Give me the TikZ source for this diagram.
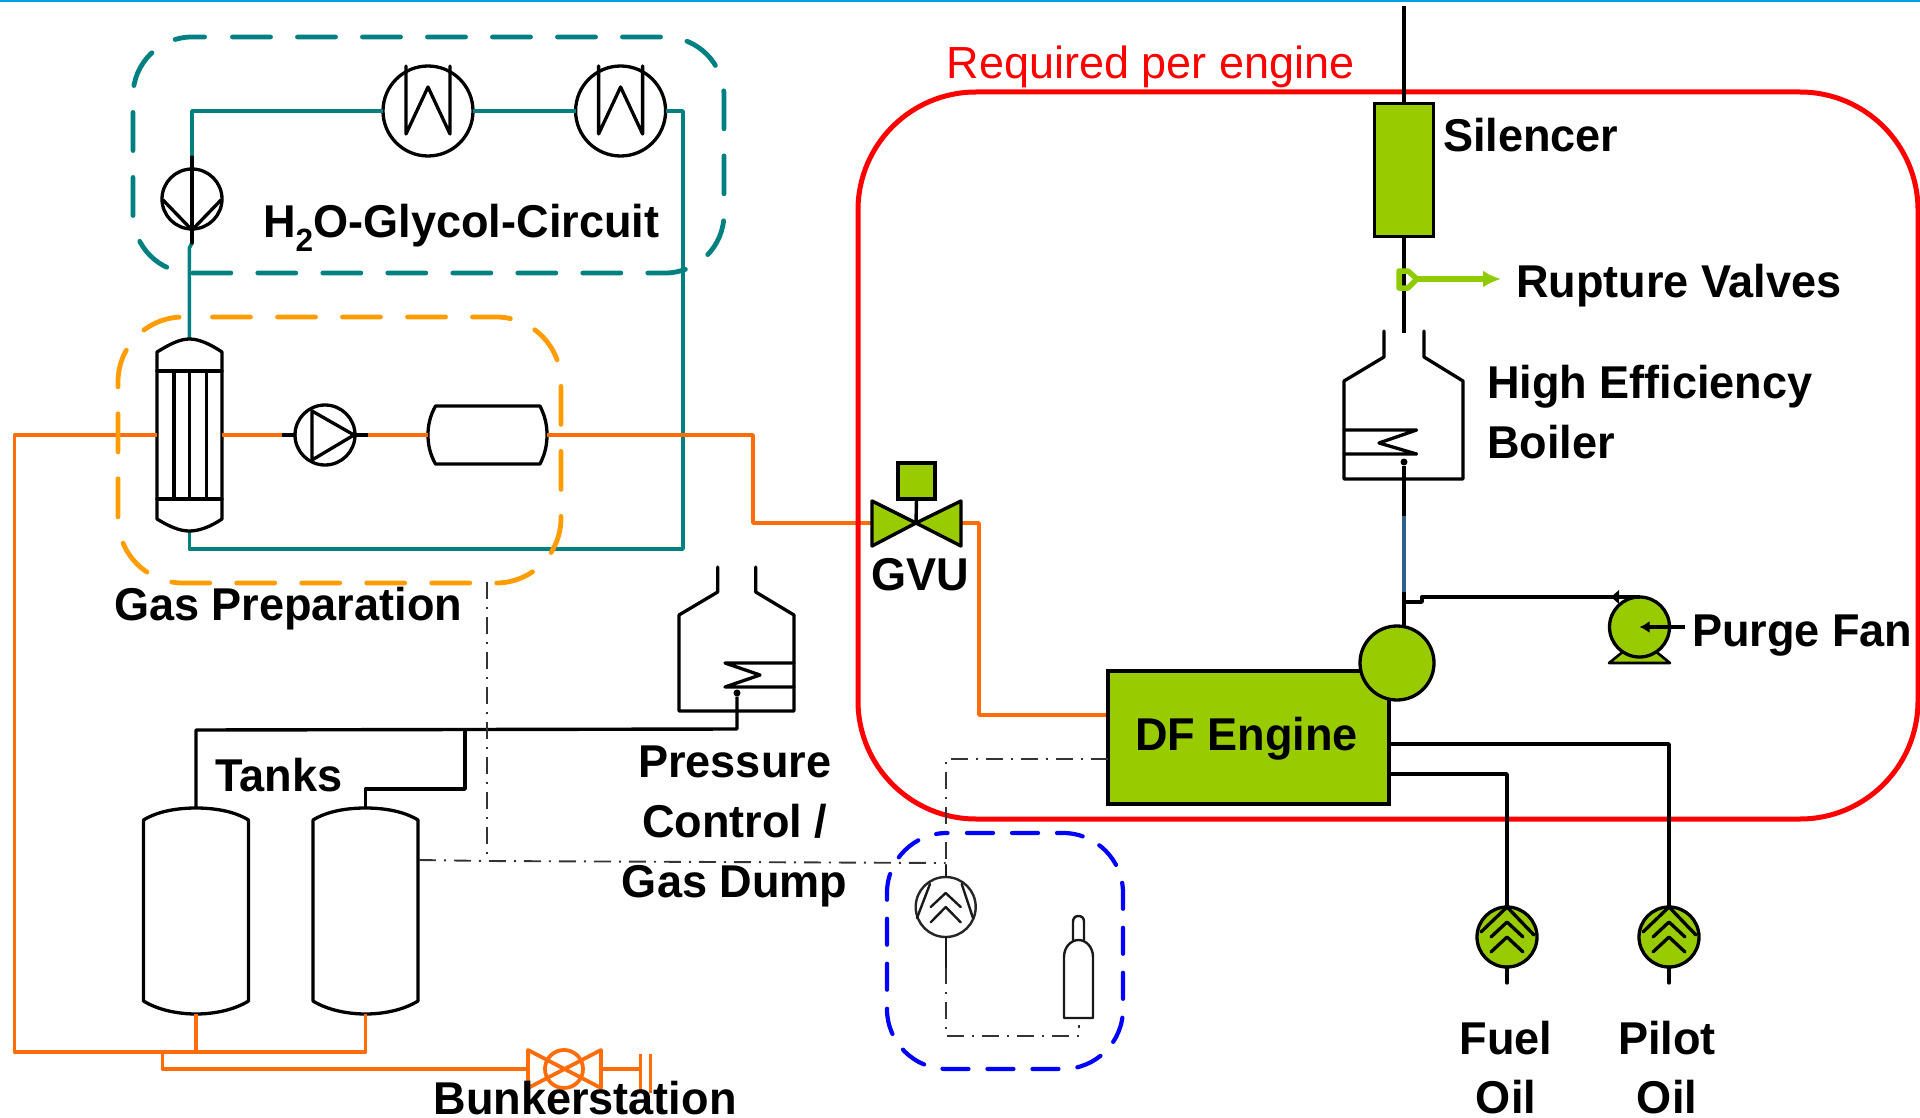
\documentclass[tikz,border=0pt]{standalone}
\usepackage{fontspec}
\setmainfont{Liberation Sans}
\usetikzlibrary{arrows.meta}
\newfontfamily\labfont[FakeStretch=0.98,BoldFont={Liberation Sans Bold}]{Liberation Sans}
\definecolor{dfgreen}{HTML}{99CC00}
\definecolor{teal2}{HTML}{008080}
\definecolor{gaspipe}{HTML}{FF6C0A}
\definecolor{prepbox}{HTML}{FF9C00}
\definecolor{rupt}{HTML}{8FCB00}
\definecolor{ductblue}{HTML}{2F5F8A}
\definecolor{topline}{HTML}{00A0E3}
\definecolor{ctrl}{HTML}{333333}
\tikzset{
 eq/.style={draw=black,line width=3.3pt,line join=round,line cap=round},
 eqthin/.style={draw=black!90,line width=2.4pt,line join=round,line cap=round},
 teal pipe/.style={draw=teal2,line width=3.6pt,line join=round},
 gas pipe/.style={draw=gaspipe,line width=3.6pt,line join=round},
 blk pipe/.style={draw=black,line width=3.4pt,line join=round},
 ctrl pipe/.style={draw=ctrl,line width=1.9pt,dash pattern=on 17pt off 8pt on 2pt off 8pt},
 tealbox/.style={draw=teal2,line width=4.8pt,line cap=round,dash pattern=on 38pt off 27pt,rounded corners=59pt},
 prepdash/.style={draw=prepbox,line width=4.8pt,line cap=round,dash pattern=on 38pt off 27pt,rounded corners=65pt},
 bluebox/.style={draw=blue,line width=4.2pt,line cap=round,dash pattern=on 26pt off 19pt,rounded corners=60pt},
 eqcirc/.style={circle,draw=black,line width=3.3pt,inner sep=0pt,outer sep=0pt,minimum size=#1},
 lab/.style={anchor=base west,inner sep=0pt,outer sep=0pt,font=\labfont\fontsize{46}{50}\selectfont\bfseries},
 labc/.style={anchor=base,inner sep=0pt,outer sep=0pt,font=\labfont\fontsize{46}{50}\selectfont\bfseries},
 wcooler/.pic={
   \node[eqcirc=90pt] (-c) at (0,0) {};
   \draw[eq] (-22,-45) -- (-22,23) -- (0,-24) -- (22,23) -- (22,-45);
 },
 oilpump/.pic={
   \node[eqcirc=60pt,fill=dfgreen] (-c) at (0,0) {};
   \draw[eq] (-26,-5) -- (0,-30) -- (27,-2);
   \draw[eq] (-16,0) -- (0,-15) -- (16,0);
   \draw[eq] (-16,15) -- (0,0) -- (16,15);
   \coordinate (-stub) at (0,46);
   \draw[eq] (-c.south) -- (-stub);
 },
 tank/.pic={
   \draw[eq] (-52.5,12) .. controls (-38,3) and (-18,0) .. (0,0) .. controls (18,0) and (38,3) .. (52.5,12)
     -- (52.5,193) .. controls (38,202) and (18,206) .. (0,206) .. controls (-18,206) and (-38,202) .. (-52.5,193) -- cycle;
   \coordinate (-top) at (0,0);
   \coordinate (-bot) at (0,206);
 }
}
\begin{document}
\begin{tikzpicture}[x=1pt,y=-1pt]
\useasboundingbox (0,0) rectangle (1920,1118);
\fill[topline] (0,0) rectangle (1920,2);

% ---------- named points
\coordinate (tealNW) at (192,111);
\coordinate (tealNE) at (683,111);
\coordinate (tealSE) at (683,549);
\coordinate (tealSW) at (189.4,549);
\coordinate (hxTop) at (189.4,339);
\coordinate (hxBot) at (189.4,531);
\coordinate (hxW) at (157,435);
\coordinate (hxE) at (222,435);

% ---------- teal circuit
\pic (c1) at (428,111) {wcooler};
\pic (c2) at (620.6,111) {wcooler};
\node[eqcirc=60pt] (wp) at (192,199) {};
\coordinate (wpT) at (192,157);
\coordinate (wpB) at (192,243);
\draw[teal pipe] (wpT) -- (tealNW) -- (c1-c.west);
\draw[teal pipe] (c1-c.east) -- (c2-c.west);
\draw[teal pipe] (c2-c.east) -- (tealNE) -- (tealSE) -- (tealSW) -- (hxBot);
\draw[teal pipe] (wpB) -- (189.4,248) -- (hxTop);
\draw[eq] (wpT) -- (wpB);
\draw[eq] (163,200) -- (192,230) -- (221,200);

% ---------- heat exchanger
\draw[eq] (157,352) .. controls (170,344) and (180,339) .. (hxTop) .. controls (199,339) and (210,344) .. (222,352)
   -- (222,519) .. controls (210,527) and (199,531) .. (hxBot) .. controls (180,531) and (170,527) .. (157,519) -- cycle;
\draw[eq] (157,371) -- (222,371) (157,499) -- (222,499);
\draw[eq] (174,371) -- (174,499) (189.4,371) -- (189.4,499) (206.7,371) -- (206.7,499);

% ---------- compressor + vessel
\node[eqcirc=60pt] (gp) at (325,435) {};
\draw[eq] (312,411) -- (312,460) -- (354,435) -- cycle;
\coordinate (gpL) at (282,435);
\coordinate (gpR) at (368,435);
\draw[eq] (gpL) -- (gp.west) (gp.east) -- (gpR);
\coordinate (vesW) at (428,435);
\coordinate (vesE) at (547,435);
\draw[eq] (435.5,406) -- (540,406) .. controls (545,416) and (547,425) .. (vesE) .. controls (547,445) and (545,454) .. (540,464)
   -- (435.5,464) .. controls (430,454) and (428,445) .. (vesW) .. controls (428,425) and (430,416) .. (435.5,406) -- cycle;

% ---------- gas pipes
\coordinate (gasW) at (14.5,435);
\coordinate (gasSW) at (14.5,1052);
\coordinate (gasSE) at (365.5,1052);
\coordinate (gasBr) at (162.5,1052);
\coordinate (gasBr2) at (162.5,1069);
\coordinate (bkW) at (527,1069);
\coordinate (gas1) at (753,435);
\coordinate (gas2) at (753,523);
\coordinate (gvW) at (872,523);
\coordinate (gvE) at (961,523);
\coordinate (gas3) at (979,523);
\coordinate (gas4) at (979,715);
\pic (t1) at (196,808) {tank};
\pic (t2) at (365.5,808) {tank};
\draw[gas pipe] (hxW) -- (gasW) -- (gasSW) -- (gasSE) -- (t2-bot);
\draw[gas pipe] (t1-bot) -- (196,1052);
\draw[gas pipe] (gasBr) -- (gasBr2) -- (bkW);
\draw[gas pipe] (hxE) -- (gpL);
\draw[gas pipe] (gpR) -- (vesW);
\draw[gas pipe] (vesE) -- (gas1) -- (gas2) -- (gvW);
\draw[gas pipe] (gvE) -- (gas3) -- (gas4) -- (1108,715);

% ---------- bunker valve
\draw[draw=gaspipe,line width=3.8pt,line join=round] (528,1050) -- (601,1088) -- (601,1050) -- (528,1088) -- cycle;
\node[circle,draw=gaspipe,line width=3.8pt,inner sep=0pt,outer sep=0pt,minimum size=38pt] (bv) at (564,1069) {};
\coordinate (bkE) at (640.5,1069);
\draw[gas pipe] (601,1069) -- (bkE);
\draw[draw=gaspipe,line width=3.4pt] (640.5,1054) -- (640.5,1093) (650.6,1054) -- (650.6,1093);

% ---------- dashed group boxes
\draw[tealbox] (232.5,37) -- (724,37) -- (724,273) -- (133,273) -- (133,37) -- (204.6,37);
\draw[prepdash] (212.5,317) -- (561,317) -- (561,583) -- (118,583) -- (118,317) -- (185,317);

% ---------- tanks / pressure control
\coordinate (tankJ1) at (196,730);
\coordinate (tankJ2) at (465,730);
\coordinate (tankJ3) at (465,789);
\coordinate (tankJ4) at (365.5,789);
\draw[eq] (717.7,567) -- (717.7,592) -- (679,615) -- (679,711) -- (794,711) -- (794,615) -- (755.7,592) -- (755.7,567);
\draw[eq] (794,663) -- (725,663) -- (760,675) -- (725,687) -- (794,687);
\node[circle,fill=black,inner sep=0pt,minimum size=7pt] (pdot) at (737,693) {};
\draw[blk pipe] (pdot) -- (737,729) -- (tankJ1) -- (t1-top);
\draw[blk pipe] (tankJ2) -- (tankJ3) -- (tankJ4) -- (t2-top);

% ---------- red box
\draw[red,line width=5pt,rounded corners=118pt] (858,92) rectangle (1918,819);

% ---------- exhaust stack
\node[draw=black,fill=dfgreen,line width=3.4pt,minimum width=59pt,minimum height=133pt,inner sep=0pt,outer sep=0pt] (sil) at (1404,170) {};
\coordinate (stackTop) at (1404,6);
\coordinate (stackLow) at (1404,333);
\draw[blk pipe] (stackTop) -- (sil.north);
\draw[blk pipe] (sil.south) -- (stackLow);
\draw[draw=rupt,line width=5.5pt,line join=round] (1399,271) -- (1399,288) -- (1408,288) -- (1417,279) -- (1408,271) -- cycle;
\draw[draw=rupt,line width=6pt,-{Latex[length=18pt,width=17pt]}] (1417,279) -- (1501,279);

% ---------- high efficiency boiler
\draw[eq] (1384,331) -- (1384,357) -- (1344,381) -- (1344,479) -- (1463,479) -- (1463,381) -- (1424,357) -- (1424,331);
\draw[eq] (1344,430) -- (1416.6,430) -- (1379,443) -- (1416.6,454) -- (1344,454);
\node[circle,fill=black,inner sep=0pt,minimum size=7pt] (bdot) at (1404,462) {};
\coordinate (ductT) at (1404,516);
\coordinate (ductB) at (1404,592);
\draw[blk pipe] (bdot) -- (ductT);
\draw[draw=ductblue,line width=4.4pt] (ductT) -- (ductB);

% ---------- engine
\node[draw=black,fill=dfgreen,line width=3.4pt,minimum width=281pt,minimum height=133pt,inner sep=0pt,outer sep=0pt] (eng) at (1248.5,737.5) {};
\node[eqcirc=74pt,fill=dfgreen] (turbo) at (1397,663) {};
\draw[blk pipe] (ductB) -- (1404,626.5);
\draw[blk pipe] (1404,602) -- (1422,602) -- (1422,597) -- (1612,597);

% ---------- purge fan
\draw[draw=black,fill=dfgreen,line width=2.6pt,line join=round] (1609,663) -- (1625,650) -- (1654,650) -- (1670,663) -- cycle;
\node[eqcirc=60pt,fill=dfgreen] (fan) at (1639.5,627) {};
\draw[blk pipe] (1612,597) -- (1640,597);
\fill (1611,597) -- (1619,590) -- (1619,604) -- cycle;
\coordinate (fanT) at (1685,627);
\draw[draw=black,line width=3.2pt,-{Latex[length=10pt,width=12pt]}] (fanT) -- (fan.center);

% ---------- oil pumps
\pic (fuel) at (1507,937) {oilpump};
\pic (pilot) at (1669,937) {oilpump};
\draw[blk pipe] (1389,774) -- (1507,774) -- (fuel-c.north);
\draw[blk pipe] (1389,744) -- (1669,744) -- (pilot-c.north);

% ---------- GVU
\draw[draw=black,fill=dfgreen,line width=3.4pt,line join=round] (872,501) -- (916,523) -- (872,546) -- cycle;
\draw[draw=black,fill=dfgreen,line width=3.4pt,line join=round] (961,501) -- (916,523) -- (961,546) -- cycle;
\node[draw=black,fill=dfgreen,line width=3.4pt,minimum width=37pt,minimum height=36pt,inner sep=0pt,outer sep=0pt] (act) at (916.5,481) {};
\draw[blk pipe] (act.south) -- (916,523);

% ---------- control lines
\coordinate (ctlA) at (945.7,759);
\coordinate (cpT) at (945.7,877);
\coordinate (cp2) at (945.7,967);
\coordinate (cp3) at (945.7,1036);
\coordinate (cp4) at (1079,1036);
\coordinate (cp5) at (1079,1025);
\coordinate (ctlV) at (487.4,582);
\coordinate (ctlJ) at (487.4,861);
\node[circle,draw=black!85,line width=2.4pt,inner sep=0pt,outer sep=0pt,minimum size=60pt] (cp) at (945.7,907) {};
\draw[ctrl pipe] (eng.west |- ctlA) -- (ctlA) -- (cpT);
\draw[ctrl pipe] (419,860) -- (ctlJ) -- (945.7,863);
\draw[ctrl pipe] (ctlV) -- (ctlJ);
\draw[ctrl pipe] (cp2) -- (cp3) -- (cp4) -- (cp5);
\draw[eqthin] (945.7,865) -- (cp.north) (cp.south) -- (cp2);
\draw[eqthin] (930,884) -- (917,918) (961.7,884) -- (973,918);
\draw[eqthin] (930.7,907) -- (945.7,893) -- (960.7,907);
\draw[eqthin] (930.7,922.3) -- (945.7,907) -- (960.7,922.3);
% bottle
\draw[eqthin] (1064,1018) -- (1064,957) .. controls (1064,947) and (1071,940) .. (1078.5,940)
   .. controls (1086,940) and (1093,947) .. (1093,957) -- (1093,1018) -- cycle;
\draw[eqthin] (1073,940) -- (1073,922) .. controls (1073,918) and (1075,916) .. (1078.5,916)
   .. controls (1082,916) and (1084,918) .. (1084,922) -- (1084,940);
\draw[bluebox] (967,833) -- (1123,833) -- (1123,1069) -- (887,1069) -- (887,833) -- (947.5,833);

% ---------- labels
\node[anchor=base west,inner sep=0pt,text=red,font=\fontsize{45}{50}\selectfont] (lreq) at (946.5,79) {Required per engine};
\node[lab] (lh2o) at (263,238) {H\textsubscript{2}O-Glycol-Circuit};
\node[lab] (lgas) at (114,620) {Gas Preparation};
\node[lab] (ltank) at (215.5,791) {Tanks};
\node[labc] (lp1) at (734.7,777) {Pressure};
\node[labc] (lp2) at (734.7,837) {Control /};
\node[labc] (lp3) at (734.7,897) {Gas Dump};
\node[labc] (lgvu) at (920,590) {GVU};
\node[lab] (ldf) at (1135,750) {DF Engine};
\node[lab] (lsil) at (1443,152) {Silencer};
\node[lab] (lrup) at (1516,297) {Rupture Valves};
\node[lab] (lhe) at (1487,398) {High Efficiency};
\node[lab] (lbo) at (1487,458) {Boiler};
\node[lab] (lpf) at (1692,646) {Purge Fan};
\node[labc] (lf1) at (1506,1054) {Fuel};
\node[labc] (lf2) at (1506,1113) {Oil};
\node[labc] (lpi1) at (1667,1054) {Pilot};
\node[labc] (lpi2) at (1667,1113) {Oil};
\node[lab] (lbk) at (433.5,1114) {Bunkerstation};
\end{tikzpicture}
\end{document}
